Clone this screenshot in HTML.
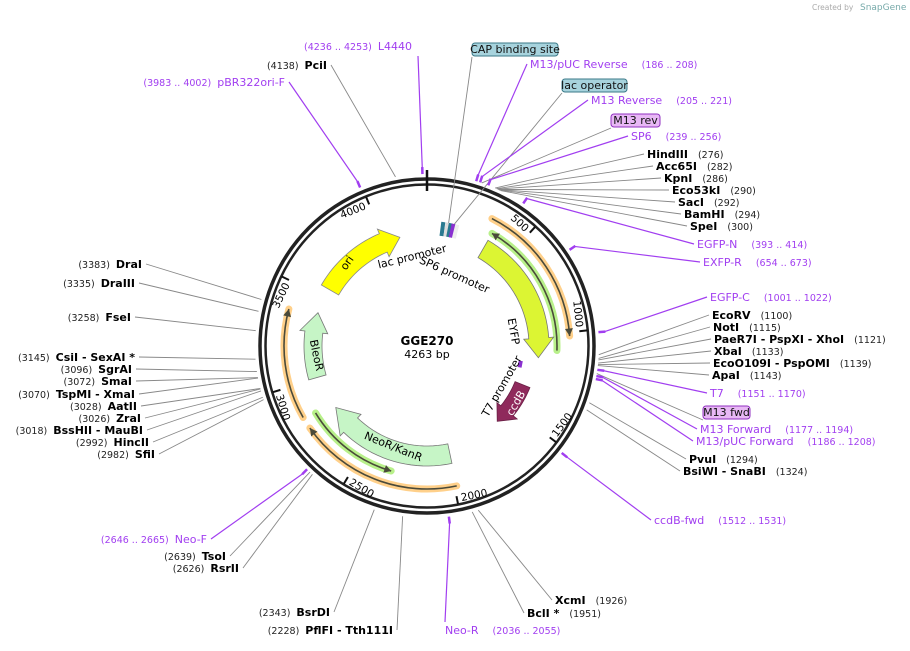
<!DOCTYPE html>
<html><head><meta charset="utf-8"><style>
body{margin:0;background:#fff;}
svg{display:block;font-family:"DejaVu Sans","Liberation Sans",sans-serif;}
.n{font-size:9.5px;fill:#222;}
.b{font-size:11px;font-weight:bold;fill:#000;}
.p{font-size:11px;fill:#a13ef0;}
.pn{font-size:9.5px;fill:#a13ef0;}
</style></head><body>
<svg id="s" width="910" height="651" viewBox="0 0 910 651" xmlns="http://www.w3.org/2000/svg">
<text x="812" y="10" font-size="7.5" fill="#aaa">Created by</text>
<text x="860" y="10" font-size="9" fill="#7aa">SnapGene</text>
<text x="427" y="345" text-anchor="middle" font-size="12" font-weight="bold">GGE270</text>
<text x="427" y="358" text-anchor="middle" font-size="11">4263 bp</text>
</svg>
<script>
const S=document.getElementById('s'),NS='http://www.w3.org/2000/svg';
const cx=427,cy=346,L=4263,P='#a13ef0';
function el(t,a,txt){const e=document.createElementNS(NS,t);for(const k in a)e.setAttribute(k,a[k]);if(txt)e.textContent=txt;S.appendChild(e);return e;}
function pt(r,d){const a=d*Math.PI/180;return [cx+r*Math.sin(a),cy-r*Math.cos(a)];}
function ang(p){return p/L*360;}
function arcD(r,d1,d2){const a=pt(r,d1),b=pt(r,d2);const large=Math.abs(d2-d1)>180?1:0;const sw=d2>d1?1:0;return `M${a[0]},${a[1]} A${r},${r} 0 ${large} ${sw} ${b[0]},${b[1]}`;}
el('circle',{cx,cy,r:167,fill:'none',stroke:'#222','stroke-width':3.5});
el('circle',{cx,cy,r:161.5,fill:'none',stroke:'#222','stroke-width':2.5});
let t0=pt(172,0),t1=pt(159,0);el('line',{x1:t0[0],y1:t0[1]-4,x2:t1[0],y2:t1[1]+4,stroke:'#111','stroke-width':2.5});
for(let k=500;k<L;k+=500){const d=ang(k);const a=pt(161,d),b=pt(153,d);el('line',{x1:a[0],y1:a[1],x2:b[0],y2:b[1],stroke:'#111','stroke-width':2});
const flip=d>90&&d<270;const rot=flip?d-180:(d>270?d-360:d);const c=pt(flip?159:150,d-1.5);
el('text',{x:c[0],y:c[1],'font-size':10.5,'text-anchor':flip?'start':'end',transform:`rotate(${rot} ${c[0]} ${c[1]})`},String(k));}
function arr(r,w,s,e,fill,stroke,hd){const sg=e>s?1:-1;const h=e-sg*hd;let pts=[];
for(let i=0;i<=20;i++){pts.push(pt(r+w/2,s+(h-s)*i/20));}
pts.push(pt(r+w/2+5,h));pts.push(pt(r,e));pts.push(pt(r-w/2-5,h));
for(let i=20;i>=0;i--){pts.push(pt(r-w/2,s+(h-s)*i/20));}
el('polygon',{points:pts.map(p=>p.join(',')).join(' '),fill,stroke:stroke||'#666','stroke-width':0.8});}
function thin(r,s,e,light){el('path',{d:arcD(r,s,e),fill:'none',stroke:light,'stroke-width':7,'stroke-linecap':'round'});
el('path',{d:arcD(r,s,e),fill:'none',stroke:'#4a4a3a','stroke-width':1.6});
const sg=e>s?1:-1;const tip=pt(r,e),b1=pt(r+4,e-sg*3),b2=pt(r-4,e-sg*3);el('polygon',{points:`${tip} ${b1} ${b2}`,fill:'#4a4a3a'});}
thin(143,27,86,'#ffd08a');
thin(130,92,30,'#b8f08a');
thin(143,168,235,'#ffd08a');
thin(130,239,196,'#b8f08a');
thin(143,240,285,'#ffd08a');
arr(112,20,30,96,'#dcf533','#777',10);
arr(103,16,112,137,'#8f2a5c','#6a1f45',8);
arr(110,20,168,236,'#c6f5c6','#777',12);
arr(114,18,254,287,'#c6f5c6','#777',10);
arr(112,20,300,346,'#ffff00','#888',9);
[[7.5,'#2a7a90',118],[9.5,'#ddd',118],[11,'#2a7a90',118],[12.3,'#8a30d0',118],[14,'#eee',118]].forEach(f=>{const a=pt(f[2]-7,f[0]),b=pt(f[2]+7,f[0]);el('line',{x1:a[0],y1:a[1],x2:b[0],y2:b[1],stroke:f[1],'stroke-width':4});});
{const a=pt(95,99),b=pt(95,103);el('line',{x1:a[0],y1:a[1],x2:b[0],y2:b[1],stroke:'#8a30d0','stroke-width':4});}
function rt(x,y,r,t,o){el('text',Object.assign({x,y,'font-size':11,'text-anchor':'middle',transform:`rotate(${r} ${x} ${y})`},o||{}),t);}
rt(413,260,-14,'lac promoter');rt(453,278,24,'SP6 promoter');rt(510,332,80,'EYFP');rt(505,388,-60,'T7 promoter');
rt(519,405,-60,'ccdB',{fill:'#fff'});rt(392,450,22,'NeoR/KanR');rt(313,356,78,'BleoR');rt(350,265,-55,'ori');
const labs=[
[118,472,57,'s','CAP binding site','','box1',558],
[197,530,68,'s','M13/pUC Reverse','(186 .. 208)','p'],
[150,562,93,'s','lac operator','','box1',627],
[213,591,104,'s','M13 Reverse','(205 .. 221)','p'],
[220,611,128,'s','M13 rev','','box2',660],
[247,631,140,'s','SP6','(239 .. 256)','p'],
[276,647,158,'s','HindIII','(276)','b'],[282,656,170,'s','Acc65I','(282)','b'],[286,664,182,'s','KpnI','(286)','b'],
[290,672,194,'s','Eco53kI','(290)','b'],[292,678,206,'s','SacI','(292)','b'],[294,684,218,'s','BamHI','(294)','b'],[300,690,230,'s','SpeI','(300)','b'],
[403,697,248,'s','EGFP-N','(393 .. 414)','p'],[663,703,266,'s','EXFP-R','(654 .. 673)','p'],[1011,710,301,'s','EGFP-C','(1001 .. 1022)','p'],
[1100,712,319,'s','EcoRV','(1100)','b'],[1115,713,331,'s','NotI','(1115)','b'],[1121,714,343,'s','PaeR7I - PspXI - XhoI','(1121)','b'],
[1133,714,355,'s','XbaI','(1133)','b'],[1139,713,367,'s','EcoO109I - PspOMI','(1139)','b'],[1143,712,379,'s','ApaI','(1143)','b'],
[1160,710,397,'s','T7','(1151 .. 1170)','p'],[1175,703,420,'s','M13 fwd','','box2',750],
[1185,700,433,'s','M13 Forward','(1177 .. 1194)','p'],[1197,696,445,'s','M13/pUC Forward','(1186 .. 1208)','p'],
[1294,689,463,'s','PvuI','(1294)','b'],[1324,683,475,'s','BsiWI - SnaBI','(1324)','b'],
[1521,654,524,'s','ccdB-fwd','(1512 .. 1531)','p'],
[1926,555,604,'s','XcmI','(1926)','b'],[1951,527,617,'s','BclI *','(1951)','b'],[2045,445,634,'s','Neo-R','(2036 .. 2055)','p'],
[2228,393,634,'e','PflFI - Tth111I','(2228)','b'],[2343,330,616,'e','BsrDI','(2343)','b'],
[2626,239,572,'e','RsrII','(2626)','b'],[2639,226,560,'e','TsoI','(2639)','b'],[2655,207,543,'e','Neo-F','(2646 .. 2665)','p'],
[2982,155,458,'e','SfiI','(2982)','b'],[2992,149,446,'e','HincII','(2992)','b'],[3018,143,434,'e','BssHII - MauBI','(3018)','b'],
[3026,141,422,'e','ZraI','(3026)','b'],[3028,137,410,'e','AatII','(3028)','b'],[3070,135,398,'e','TspMI - XmaI','(3070)','b'],
[3072,132,385,'e','SmaI','(3072)','b'],[3096,132,373,'e','SgrAI','(3096)','b'],[3145,135,361,'e','CsiI - SexAI *','(3145)','b'],
[3258,131,321,'e','FseI','(3258)','b'],[3335,135,287,'e','DraIII','(3335)','b'],[3383,142,268,'e','DraI','(3383)','b'],
[3992,285,86,'e','pBR322ori-F','(3983 .. 4002)','p'],[4138,327,69,'e','PciI','(4138)','b'],[4245,412,50,'e','L4440','(4236 .. 4253)','p']];
labs.forEach(l=>{const [pos,x,y,an,name,num,ty,x2]=l;const d=ang(pos);
const purple=ty==='p';
let r0=ty==='box1'?125:(purple?178:172);const a=pt(r0,d);
let lx=an==='s'?x-3:x+4,ly=y-4;if(ty.startsWith('box')){lx=x;ly=y;}
if(name==='Neo-R'){lx=x;ly=y-12;}if(name==='L4440'){lx=x+6;ly=y+6;}
el('line',{x1:a[0],y1:a[1],x2:lx,y2:ly,stroke:purple?P:'#888','stroke-width':purple?1.2:0.9});
if(purple){const m1=pt(172,d),m2=pt(179,d);el('line',{x1:m1[0],y1:m1[1],x2:m2[0],y2:m2[1],stroke:P,'stroke-width':2.5});}
if(ty.startsWith('box')){el('rect',{x,y:y-14,width:x2-x,height:13,rx:3,fill:ty==='box1'?'#a7d3dd':'#e8b8f5',stroke:ty==='box1'?'#3b7a88':'#9030c0','stroke-width':1});
el('text',{x:(x+x2)/2,y:y-4,'font-size':11,'text-anchor':'middle',fill:'#111'},name);return;}
const nc=purple?'pn':'n',mc=purple?'p':'b';
if(an==='s'){const t=el('text',{x,y,class:mc},name);const w=t.getComputedTextLength();el('text',{x:x+w+(purple?14:10),y,class:nc},num);}
else{const t=el('text',{x,y,class:mc,'text-anchor':'end'},name);const w=t.getComputedTextLength();el('text',{x:x-w-6,y,class:nc,'text-anchor':'end'},num);}
});
</script>
</body></html>
